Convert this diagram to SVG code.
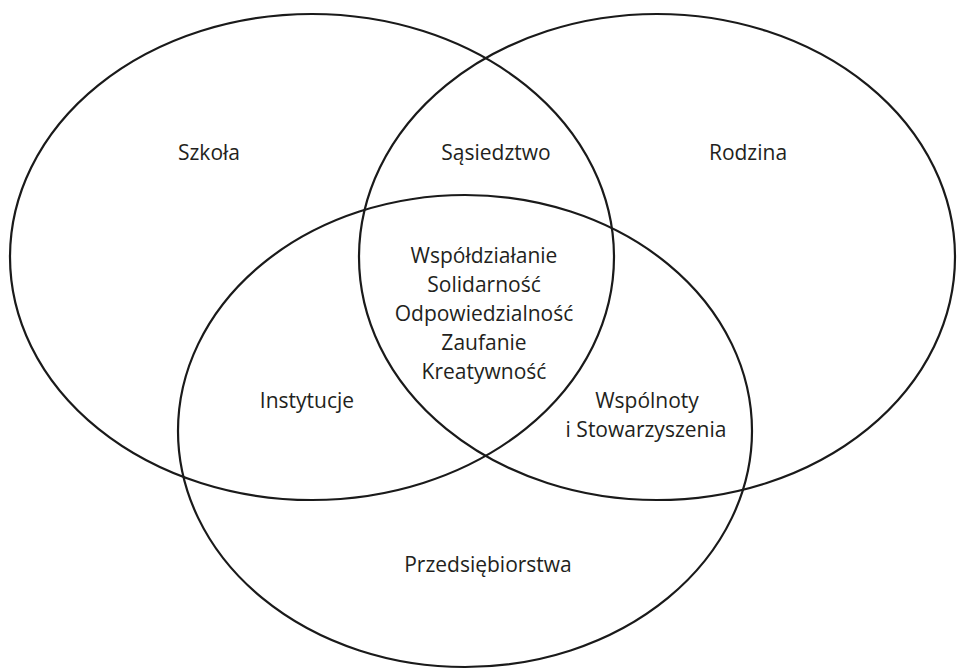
<svg xmlns="http://www.w3.org/2000/svg" width="957" height="669" viewBox="0 0 957 669">
<style>
.c{fill:none;stroke:#1a1a1a;stroke-width:2.2}
.t{font-family:"Open Sans","Noto Sans","Liberation Sans",sans-serif;font-size:21px;fill:#231f20;text-anchor:middle}
</style>
<rect width="957" height="669" fill="#fff"/>
<g id="shapes">
<g id="szkola-circle"><ellipse class="c" cx="312" cy="257" rx="302" ry="243"/></g>
<g id="rodzina-circle"><ellipse class="c" cx="657" cy="257" rx="298" ry="243"/></g>
<g id="przedsiebiorstwa-circle"><ellipse class="c" cx="465" cy="431" rx="287" ry="236"/></g>
</g>
<g id="labels">
<g id="szkola"><text class="t" x="209" y="160">Szkoła</text></g>
<g id="sasiedztwo"><text class="t" x="496" y="160">Sąsiedztwo</text></g>
<g id="rodzina"><text class="t" x="748" y="160">Rodzina</text></g>
<g id="center">
<text class="t" x="484" y="263">Współdziałanie</text>
<text class="t" x="484" y="292">Solidarność</text>
<text class="t" x="484" y="321">Odpowiedzialność</text>
<text class="t" x="484" y="350">Zaufanie</text>
<text class="t" x="484" y="379">Kreatywność</text>
</g>
<g id="instytucje"><text class="t" x="307" y="408">Instytucje</text></g>
<g id="wspolnoty">
<text class="t" x="647" y="408">Wspólnoty</text>
<text class="t" x="646" y="437">i Stowarzyszenia</text>
</g>
<g id="przedsiebiorstwa"><text class="t" x="488" y="572">Przedsiębiorstwa</text></g>
</g>
</svg>
